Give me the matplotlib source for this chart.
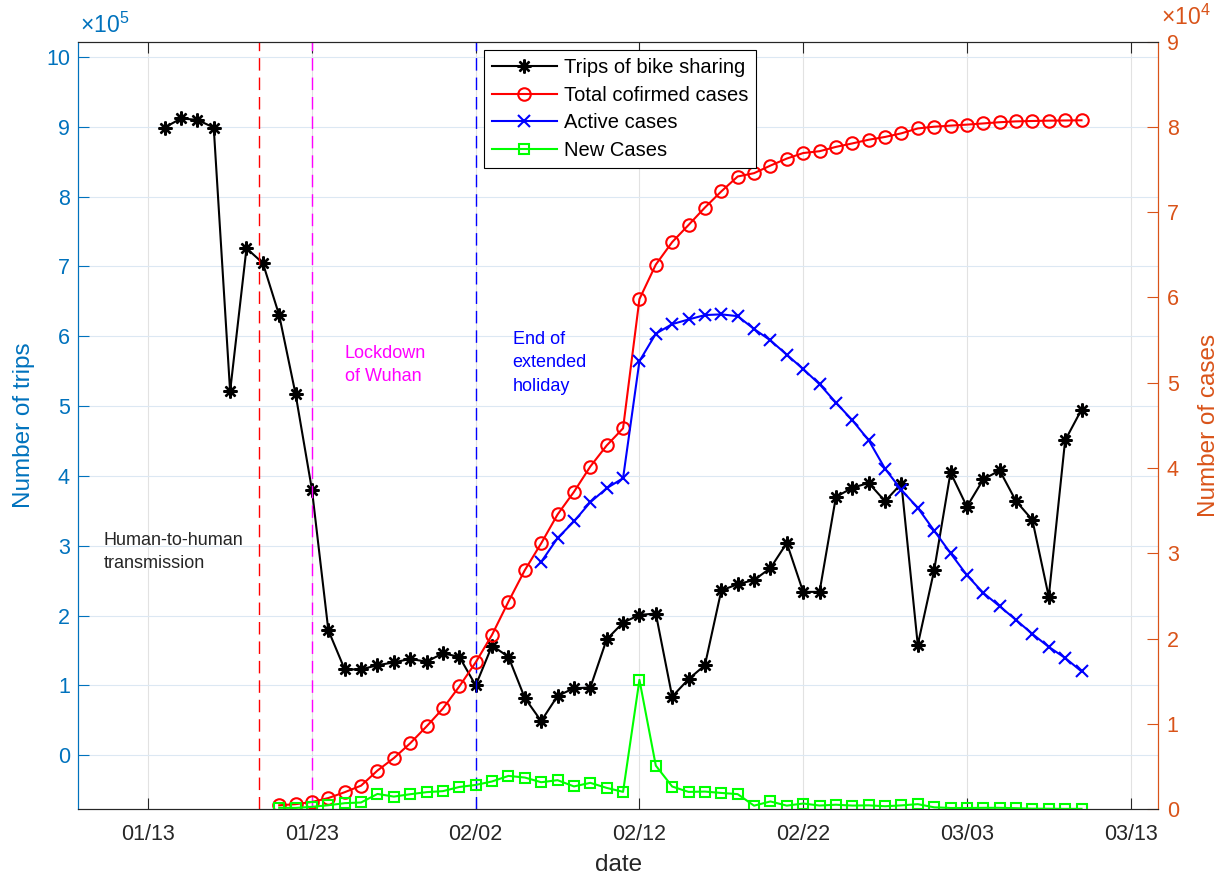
import matplotlib
matplotlib.use("Agg")
import matplotlib.pyplot as plt
import matplotlib.ticker as mticker
import matplotlib.dates as mdates
import pandas as pd

plt.rcParams["font.family"] = ["Liberation Sans", "DejaVu Sans"]
plt.rcParams["mathtext.fontset"] = "custom"
plt.rcParams["mathtext.rm"] = "Liberation Sans"

# =========================
# DATA
# =========================
trip_dates = pd.date_range("2020-01-14", "2020-03-10")
trips = [
    899000, 912000, 910000, 899000, 521000, 726000, 705000, 630000, 517000, 380000,
    179000, 123000, 123000, 129000, 133000, 138000, 134000, 146000,
    141000, 100000, 157000, 141000, 82000, 49000, 85000, 96000, 97000, 166000,
    190000, 201000, 203000, 84000, 109000, 129000, 236000, 245000, 251000, 268000,
    304000, 234000, 234000, 370000, 383000, 390000, 364000, 389000, 158000,
    265000, 405000, 356000, 395000, 408000, 364000, 337000, 227000, 451000, 495000,
]

case_dates = pd.date_range("2020-01-21", "2020-03-10")
total_cases = [
    440, 571, 830, 1287, 1975, 2744, 4515, 5974, 7711, 9692, 11791,
    14380, 17205, 20438, 24324, 28018, 31161, 34546, 37198, 40171, 42638,
    44653, 59804, 63851, 66492, 68500, 70548, 72436, 74185, 74576, 75465,
    76288, 76936, 77150, 77658, 78064, 78497, 78824, 79251, 79824,
    80026, 80151, 80270, 80409, 80552, 80651, 80695, 80735, 80754, 80778,
]
new_cases = [
    149, 131, 259, 444, 688, 769, 1771, 1459, 1737, 1981, 2099,
    2589, 2825, 3235, 3887, 3694, 3143, 3385, 2652, 3073, 2478,
    2015, 15152, 5090, 2641, 2008, 2048, 1888, 1749, 394, 889,
    397, 648, 409, 508, 406, 433, 327, 427, 573,
    202, 125, 119, 139, 143, 99, 44, 40, 19, 24,
]

active_dates = pd.date_range("2020-02-06", "2020-03-10")
active_cases = [
    28985, 31774, 33738, 35982, 37626, 38800, 52526, 55748, 56873, 57416,
    57934, 58016, 57805, 56303, 54965, 53284, 51606, 49824, 47672, 45604,
    43258, 39919, 37414, 35329, 32652, 30004, 27433, 25352, 23784, 22177,
    20533, 19016, 17721, 16145,
]

event_dates = pd.to_datetime(["2020-01-19 19:00", "2020-01-23 00:00", "2020-02-02 00:00"])
event_colors = ["#ff0000", "#ff00ff", "#0000ff"]
event_texts = ["Human-to-human\ntransmission", "Lockdown\nof Wuhan",
               "End of\nextended\nholiday"]
text_dates = pd.to_datetime(["2020-01-10 07:00", "2020-01-25 00:00", "2020-02-04 06:00"])
text_y = [2.91e5, 5.59e5, 5.62e5]
text_colors = ["#262626", "#ff00ff", "#0000ff"]

C_LEFT = "#0072BD"
C_RIGHT = "#D95319"
C_AX = "#262626"

# =========================
# FIGURE
# =========================
fig, ax = plt.subplots(figsize=(12.22, 8.77), dpi=100)
fig.subplots_adjust(left=0.0641, right=0.948, bottom=0.0775, top=0.9525)
ax2 = ax.twinx()

l1, = ax.plot(trip_dates, trips, color="black", lw=1.5, marker=(8, 2, 0),
              ms=10, mew=1.7, label="Trips of bike sharing")
l2, = ax2.plot(case_dates, total_cases, color="#ff0000", lw=1.5, marker="o",
               ms=9, mfc="none", mew=1.5, label="Total cofirmed cases")
l3, = ax2.plot(active_dates, active_cases, color="#0000ff", lw=1.5, marker="x",
               ms=8, mew=1.5, label="Active cases")
l4, = ax2.plot(case_dates, new_cases, color="#00ff00", lw=1.5, marker="s",
               ms=7, mfc="none", mew=1.5, label="New Cases")

for d, c in zip(event_dates, event_colors):
    ax.axvline(d, color=c, lw=1, dashes=(9, 5))

for d, y, t, c in zip(text_dates, text_y, event_texts, text_colors):
    ax.text(d, y, t, color=c, fontsize=13, ha="left", va="center",
            linespacing=1.5)

# axes limits
x0 = pd.Timestamp("2020-01-13")
ax.set_xlim(x0 - pd.Timedelta(days=4.27), x0 + pd.Timedelta(days=61.7))
ax.set_ylim(-0.77e5, 10.22e5)
ax2.set_ylim(0, 9e4)

tick_dates = pd.date_range(x0, periods=7, freq="10D")
ax.xaxis.set_major_locator(mticker.FixedLocator(mdates.date2num(tick_dates)))
ax.xaxis.set_major_formatter(mdates.DateFormatter("%m/%d"))
ax.yaxis.set_major_locator(mticker.MultipleLocator(1e5))
ax.yaxis.set_major_formatter(mticker.FuncFormatter(lambda v, p: f"{v / 1e5:g}"))
ax2.yaxis.set_major_locator(mticker.MultipleLocator(1e4))
ax2.yaxis.set_major_formatter(mticker.FuncFormatter(lambda v, p: f"{v / 1e4:g}"))

# grid
ax.set_axisbelow(True)
ax.grid(axis="x", color="#e2e2e2", lw=0.8)
ax.grid(axis="y", color="#dce8f3", lw=0.8)

# ticks / spines
ax.tick_params(axis="x", direction="in", top=True, length=8, color=C_AX,
               labelsize=15.5, labelcolor=C_AX, pad=11)
ax.tick_params(axis="y", direction="in", length=8, color=C_LEFT,
               labelsize=15.5, labelcolor=C_LEFT, pad=6)
ax2.tick_params(axis="y", direction="in", length=8, color=C_RIGHT,
                labelsize=15.5, labelcolor=C_RIGHT, pad=6)
for a in (ax, ax2):
    a.spines["top"].set_color(C_AX)
    a.spines["bottom"].set_color(C_AX)
    a.spines["left"].set_color(C_LEFT)
    a.spines["right"].set_color(C_RIGHT)

ax.set_xlabel("date", fontsize=17.5, color=C_AX, labelpad=6)
ax.set_ylabel("Number of trips", fontsize=17.5, color=C_LEFT, labelpad=8)
ax2.set_ylabel("Number of cases", fontsize=17.5, color=C_RIGHT, labelpad=14)

fig.text(80 / 1222, 1 - 38 / 877, r"$\times10^{5}$", color=C_LEFT,
         fontsize=16.5, ha="left", va="bottom")
fig.text(1161 / 1222, 1 - 30 / 877, r"$\times10^{4}$", color=C_RIGHT,
         fontsize=16.5, ha="left", va="bottom")

leg = ax2.legend(handles=[l1, l2, l3, l4], loc="upper left",
                 bbox_to_anchor=(484 / 1222, 1 - 50 / 877),
                 bbox_transform=fig.transFigure, borderaxespad=0,
                 fontsize=14.5, handlelength=3.2, handletextpad=0.35,
                 labelspacing=0.43, borderpad=0.4,
                 fancybox=False, framealpha=1, edgecolor="black")
leg.get_frame().set_linewidth(0.8)

plt.savefig("out.png", dpi=100)
